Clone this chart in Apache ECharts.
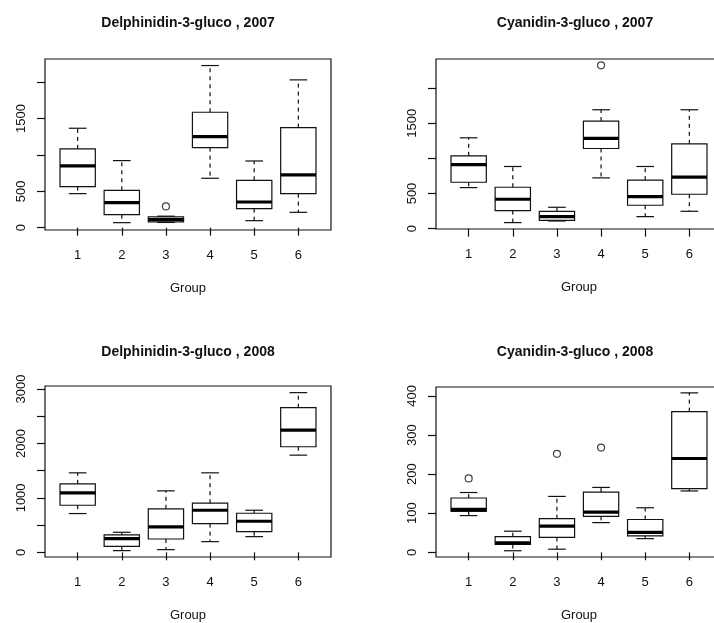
<!DOCTYPE html>
<html>
<head>
<meta charset="utf-8">
<script src="https://cdn.jsdelivr.net/npm/echarts@6/dist/echarts.min.js"></script>
<style>html,body{margin:0;padding:0;background:#fff}#c{width:714px;height:623px}</style>
</head>
<body>
<div id="c"></div>
<script>
// ---- data ----
const groups = ['1', '2', '3', '4', '5', '6'];
const titles = ['Delphinidin-3-gluco , 2007', 'Cyanidin-3-gluco , 2007',
                'Delphinidin-3-gluco , 2008', 'Cyanidin-3-gluco , 2008'];
const xName = 'Group';
// [lower whisker, Q1, median, Q3, upper whisker] per group
const delph2007 = [[468, 564, 849, 1083, 1367], [69, 179, 344, 514, 922], [72, 80, 115, 150, 158],
                   [679, 1101, 1252, 1587, 2229], [96, 261, 353, 651, 917], [211, 468, 725, 1376, 2032]];
const cyan2007  = [[584, 660, 912, 1036, 1292], [86, 257, 418, 589, 884], [109, 119, 171, 247, 304],
                   [722, 1140, 1283, 1530, 1691], [171, 333, 456, 689, 884], [247, 489, 732, 1207, 1691]];
const delph2008 = [[712, 865, 1092, 1258, 1460], [31, 110, 252, 319, 368], [49, 245, 466, 798, 1129],
                   [196, 528, 773, 902, 1460], [288, 380, 571, 718, 773], [1785, 1939, 2245, 2656, 2933]];
const cyan2008  = [[94, 105, 110, 139, 153], [4, 20, 24, 40, 54], [8, 38, 67, 86, 143],
                   [76, 92, 103, 154, 166], [35, 42, 51, 84, 114], [157, 163, 240, 360, 408]];
// outliers: [group, value]
const delph2007Out = [[3, 292]];
const cyan2007Out  = [[4, 2323]];
const delph2008Out = [];
const cyan2008Out  = [[1, 189], [3, 252], [4, 268]];
// y ticks and labels
const yTicks = [[0, 500, 1000, 1500, 2000], [0, 500, 1000, 1500, 2000],
                [0, 500, 1000, 1500, 2000, 2500, 3000], [0, 100, 200, 300, 400]];
const yLabels = [[0, 500, 1500], [0, 500, 1500], [0, 1000, 2000, 3000], [0, 100, 200, 300, 400]];
const yRange = [[-32, 2319], [-5, 2413], [-86, 3055], [-12, 423]];

const panels = [delph2007, cyan2007, delph2008, cyan2008];
const outs = [delph2007Out, cyan2007Out, delph2008Out, cyan2008Out];

// ---- layout ----
const gridPos = [
  {left: 45, top: 59, width: 286, height: 171},
  {left: 436, top: 59, width: 286, height: 170},
  {left: 45, top: 386, width: 286, height: 171},
  {left: 436, top: 387, width: 286, height: 170}
];
const FONT = 'Liberation Sans, Arial, Helvetica, sans-serif';

function renderBox(params, api) {
  const x = api.value(0);
  const lo = api.coord([x, api.value(1)]);
  const q1 = api.coord([x, api.value(2)]);
  const md = api.coord([x, api.value(3)]);
  const q3 = api.coord([x, api.value(4)]);
  const hi = api.coord([x, api.value(5)]);
  const cx = lo[0];
  const hb = api.coord([x + 0.4, api.value(1)])[0] - cx;
  const hc = hb / 2;
  const st = {stroke: '#111', lineWidth: 1.2, fill: null};
  const dash = {stroke: '#111', lineWidth: 1.2, lineDash: [4, 4]};
  return {
    type: 'group',
    children: [
      {type: 'line', shape: {x1: cx, y1: q3[1], x2: cx, y2: hi[1]}, style: dash},
      {type: 'line', shape: {x1: cx, y1: q1[1], x2: cx, y2: lo[1]}, style: dash},
      {type: 'line', shape: {x1: cx - hc, y1: hi[1], x2: cx + hc, y2: hi[1]}, style: st},
      {type: 'line', shape: {x1: cx - hc, y1: lo[1], x2: cx + hc, y2: lo[1]}, style: st},
      {type: 'rect', shape: {x: cx - hb, y: q3[1], width: 2 * hb, height: q1[1] - q3[1]}, style: st},
      {type: 'line', shape: {x1: cx - hb, y1: md[1], x2: cx + hb, y2: md[1]}, style: {stroke: '#000', lineWidth: 3.2}}
    ]
  };
}

const grid = [], xAxis = [], yAxis = [], series = [], graphic = [];
panels.forEach((stats, i) => {
  grid.push(Object.assign({show: true, borderColor: '#111', borderWidth: 1.2, backgroundColor: 'transparent',
                           containLabel: false, outerBoundsMode: 'none'}, gridPos[i]));
  xAxis.push({
    type: 'value', gridIndex: i, min: 0.26, max: 6.74,
    axisLine: {show: false}, splitLine: {show: false},
    axisTick: {show: true, length: 8, lineStyle: {color: '#111', width: 1.2}, customValues: [1, 2, 3, 4, 5, 6]},
    axisLabel: {show: true, margin: 19, fontSize: 13, color: '#111', fontFamily: FONT,
                customValues: [1, 2, 3, 4, 5, 6], formatter: v => groups[Math.round(v) - 1]},
    name: xName, nameLocation: 'middle', nameGap: 52,
    nameTextStyle: {fontSize: 13, color: '#111', fontFamily: FONT}
  });
  yAxis.push({
    type: 'value', gridIndex: i, min: yRange[i][0], max: yRange[i][1],
    axisLine: {show: false}, splitLine: {show: false},
    axisTick: {show: true, length: 8, lineStyle: {color: '#111', width: 1.2}, customValues: yTicks[i]},
    axisLabel: {show: true, rotate: 90, margin: 17, fontSize: 13, color: '#111', fontFamily: FONT,
                customValues: yLabels[i], formatter: v => String(v)}
  });
  series.push({
    type: 'custom', xAxisIndex: i, yAxisIndex: i, renderItem: renderBox, clip: false,
    encode: {x: 0, y: [1, 2, 3, 4, 5]},
    data: stats.map((s, g) => [g + 1].concat(s))
  });
  series.push({
    type: 'scatter', xAxisIndex: i, yAxisIndex: i, symbol: 'circle', symbolSize: 7,
    itemStyle: {color: 'rgba(0,0,0,0)', borderColor: '#111', borderWidth: 1.2},
    data: outs[i]
  });
  const p = gridPos[i];
  graphic.push({
    type: 'text', x: p.left + p.width / 2 - 4 * (i % 2), y: i < 2 ? 23 : 352,
    style: {text: titles[i], fontSize: 14, fontWeight: 'bold', fontFamily: FONT, fill: '#111',
            textAlign: 'center', textVerticalAlign: 'middle'}
  });
});

const chart = echarts.init(document.getElementById('c'), null, {renderer: 'canvas'});
chart.setOption({animation: false, backgroundColor: '#fff', grid, xAxis, yAxis, series, graphic});
</script>
</body>
</html>
